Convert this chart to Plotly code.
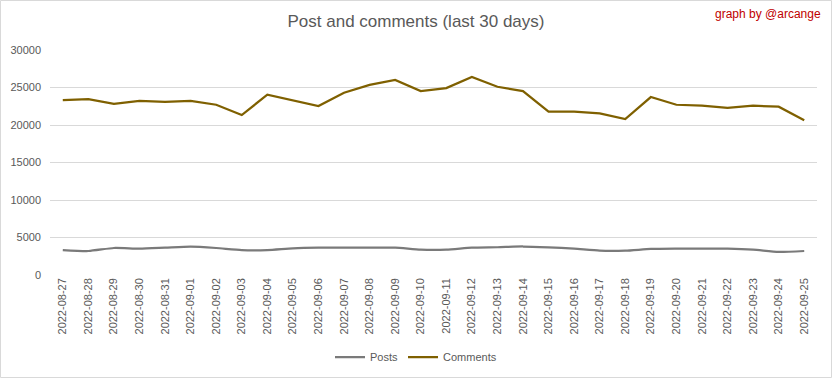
import plotly.graph_objects as go

dates = ["2022-08-27", "2022-08-28", "2022-08-29", "2022-08-30", "2022-08-31",
         "2022-09-01", "2022-09-02", "2022-09-03", "2022-09-04", "2022-09-05",
         "2022-09-06", "2022-09-07", "2022-09-08", "2022-09-09", "2022-09-10",
         "2022-09-11", "2022-09-12", "2022-09-13", "2022-09-14", "2022-09-15",
         "2022-09-16", "2022-09-17", "2022-09-18", "2022-09-19", "2022-09-20",
         "2022-09-21", "2022-09-22", "2022-09-23", "2022-09-24", "2022-09-25"]

posts = [3330, 3200, 3600, 3510, 3640, 3780, 3600, 3330, 3330, 3560,
         3640, 3640, 3640, 3640, 3380, 3380, 3640, 3700, 3800, 3690,
         3510, 3240, 3240, 3470, 3510, 3510, 3510, 3380, 3070, 3200]

comments = [23330, 23450, 22820, 23200, 23070, 23200, 22700, 21330, 24040, 23330,
            22530, 24300, 25350, 26000, 24530, 24930, 26420, 25100, 24530, 21780,
            21780, 21560, 20800, 23730, 22700, 22570, 22270, 22570, 22440, 20630]

y_ticks = [0, 5000, 10000, 15000, 20000, 25000, 30000]
y_tick_labels = ["0", "5000", "10000", "15000", "20000", "25000", "30000"]

FONT = "Liberation Sans, Arial, sans-serif"

fig = go.Figure()
fig.add_trace(go.Scatter(x=dates, y=posts, name="Posts", mode="lines",
                         line=dict(color="#7a7a7a", width=2.25, shape="spline", smoothing=0.6)))
fig.add_trace(go.Scatter(x=dates, y=comments, name="Comments", mode="lines",
                         line=dict(color="#7f6000", width=2.25)))

L, R, T, B = 50, 15, 50, 103
W, H = 832, 378
pw, ph = W - L - R, H - T - B

fig.update_layout(
    width=W, height=H,
    margin=dict(l=L, r=R, t=T, b=B),
    paper_bgcolor="white", plot_bgcolor="white",
    font=dict(family=FONT, color="#595959", size=11),
    title=dict(text="Post and comments (last 30 days)", x=0.5, xanchor="center",
               y=1 - 21 / H, yanchor="middle",
               font=dict(family=FONT, size=17, color="#595959")),
    xaxis=dict(type="category", range=[-0.5, len(dates) - 0.5], showgrid=False,
               showline=False, zeroline=False, tickangle=-90, ticks="",
               automargin=False,
               tickfont=dict(size=11, color="#595959")),
    yaxis=dict(range=[0, 30000], tickvals=y_ticks, ticktext=y_tick_labels,
               showgrid=True, gridcolor="#d9d9d9",
               gridwidth=1, zeroline=False, showline=False, ticks="",
               ticklabelstandoff=8, automargin=False,
               tickfont=dict(size=11, color="#595959")),
    legend=dict(orientation="h", xref="container", yref="container",
                x=0.5, xanchor="center", y=1 - 357 / H,
                yanchor="middle", font=dict(size=11, color="#595959")),
    showlegend=True,
)

fig.add_annotation(text="graph by @arcange", xref="paper", yref="paper",
                   x=(823 - L) / pw, y=(275 - 14) / ph, xanchor="right", yanchor="middle",
                   showarrow=False, font=dict(family=FONT, size=12, color="#c00000"))

fig.add_shape(type="rect", xref="paper", yref="paper",
              x0=(0.5 - L) / pw, x1=(831.5 - L) / pw,
              y0=(275 - 377.5) / ph, y1=(275 - 0.5) / ph,
              line=dict(color="#d9d9d9", width=1), fillcolor="rgba(0,0,0,0)", layer="below")

fig.write_html("out.html", config={"displayModeBar": False},
               post_script="document.body.style.margin='0';document.body.style.overflow='hidden';")
